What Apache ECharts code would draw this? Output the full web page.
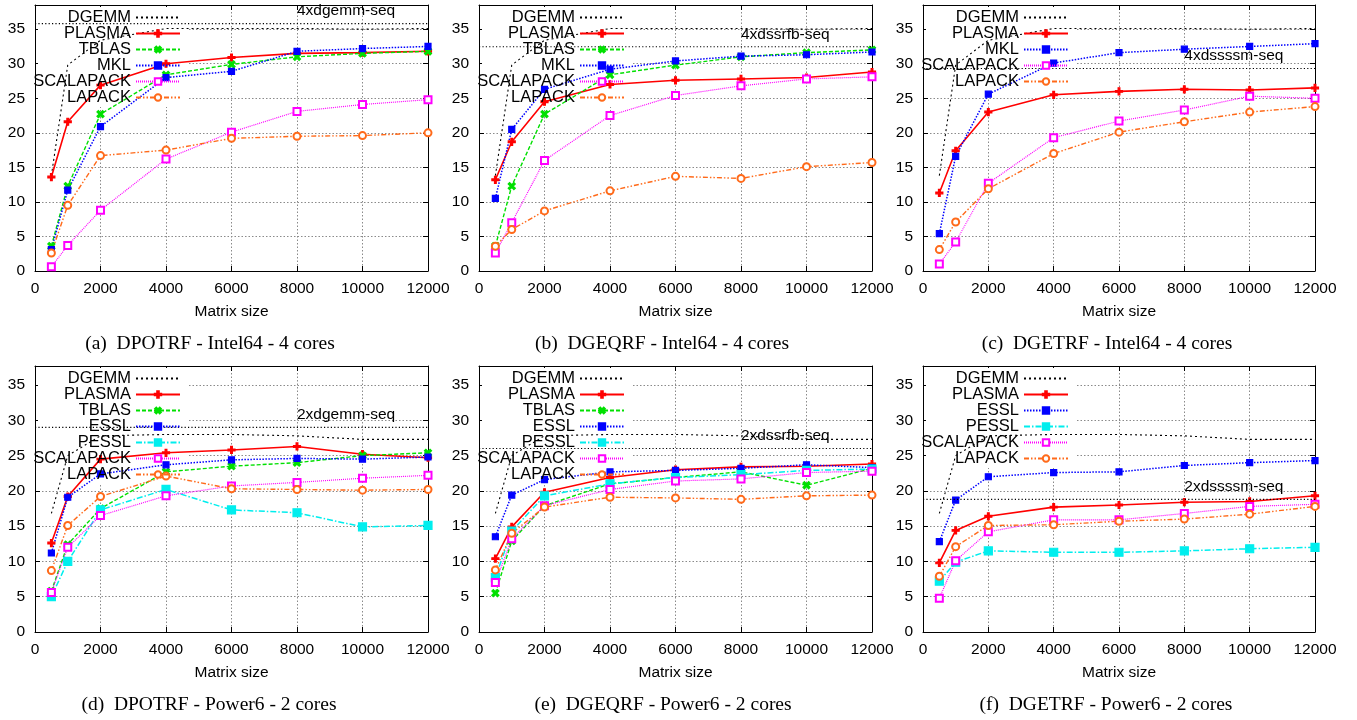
<!DOCTYPE html>
<html>
<head>
<meta charset="utf-8">
<script src="https://cdn.jsdelivr.net/npm/echarts@6/dist/echarts.min.js"></script>
<style>
html, body { margin: 0; padding: 0; background: #fff; }
#chart { width: 1357px; height: 720px; }
</style>
</head>
<body>
<div id="chart"></div>
<script>
// ---- measured data: Gflop/s versus matrix size ----
const matrixSizes = [500, 1000, 2000, 4000, 6000, 8000, 10000, 12000];

// DGEMM reference curves (same measurement for every panel of a machine)
const dgemmIntel64 = [13.8, 29.8, 33.4, 35.1, 35.1, 35.1, 35.0, 35.1];
const dgemmPower6  = [16.8, 25.0, 27.8, 28.0, 28.0, 27.8, 27.3, 27.3];

// (a) DPOTRF - Intel64 - 4 cores
const dpotrfIntelPlasma    = [13.6, 21.6, 26.9, 30.0, 30.9, 31.5, 31.6, 31.8];
const dpotrfIntelTblas     = [3.6, 12.3, 22.7, 28.4, 29.9, 31.0, 31.5, 31.8];
const dpotrfIntelMkl       = [3.1, 11.7, 20.9, 28.0, 28.9, 31.8, 32.2, 32.5];
const dpotrfIntelScalapack = [0.6, 3.7, 8.8, 16.2, 20.1, 23.1, 24.1, 24.8];
const dpotrfIntelLapack    = [2.6, 9.5, 16.7, 17.5, 19.2, 19.5, 19.6, 20.0];

// (b) DGEQRF - Intel64 - 4 cores
const dgeqrfIntelPlasma    = [13.2, 18.7, 24.5, 27.0, 27.6, 27.8, 28.0, 28.8];
const dgeqrfIntelTblas     = [3.6, 12.3, 22.7, 28.4, 29.8, 31.0, 31.6, 32.0];
const dgeqrfIntelMkl       = [10.5, 20.5, 26.3, 29.2, 30.4, 31.1, 31.3, 31.7];
const dgeqrfIntelScalapack = [2.6, 7.0, 16.0, 22.5, 25.4, 26.8, 27.8, 28.1];
const dgeqrfIntelLapack    = [3.6, 6.0, 8.7, 11.6, 13.7, 13.4, 15.1, 15.7];

// (c) DGETRF - Intel64 - 4 cores
const dgetrfIntelPlasma    = [11.3, 17.4, 23.0, 25.5, 26.0, 26.3, 26.2, 26.5];
const dgetrfIntelMkl       = [5.4, 16.6, 25.6, 30.1, 31.6, 32.1, 32.5, 32.9];
const dgetrfIntelScalapack = [1.0, 4.2, 12.7, 19.3, 21.7, 23.3, 25.3, 25.0];
const dgetrfIntelLapack    = [3.1, 7.1, 11.9, 17.0, 20.1, 21.6, 23.0, 23.8];

// (d) DPOTRF - Power6 - 2 cores
const dpotrfPowerPlasma    = [12.6, 19.2, 24.5, 25.4, 25.8, 26.3, 25.2, 24.7];
const dpotrfPowerTblas     = [5.8, 12.4, 17.5, 22.7, 23.5, 24.0, 25.0, 25.4];
const dpotrfPowerEssl      = [11.2, 19.1, 22.4, 23.7, 24.4, 24.6, 24.5, 24.8];
const dpotrfPowerPessl     = [5.0, 10.0, 17.3, 20.2, 17.3, 16.9, 14.9, 15.1];
const dpotrfPowerScalapack = [5.6, 12.0, 16.5, 19.3, 20.7, 21.2, 21.8, 22.2];
const dpotrfPowerLapack    = [8.7, 15.1, 19.2, 22.1, 20.3, 20.2, 20.1, 20.2];

// (e) DGEQRF - Power6 - 2 cores
const dgeqrfPowerPlasma    = [10.4, 14.9, 19.8, 21.9, 23.0, 23.4, 23.5, 23.8];
const dgeqrfPowerTblas     = [5.5, 12.9, 17.9, 21.0, 21.9, 22.7, 20.8, 23.2];
const dgeqrfPowerEssl      = [13.5, 19.4, 21.6, 22.7, 22.9, 23.2, 23.7, 23.3];
const dgeqrfPowerPessl     = [7.7, 14.3, 19.3, 21.0, 21.9, 22.3, 22.9, 23.1];
const dgeqrfPowerScalapack = [7.0, 13.2, 17.9, 20.2, 21.4, 21.7, 22.6, 22.8];
const dgeqrfPowerLapack    = [8.8, 14.0, 17.7, 19.1, 19.0, 18.8, 19.3, 19.4];

// (f) DGETRF - Power6 - 2 cores
const dgetrfPowerPlasma    = [9.8, 14.4, 16.4, 17.7, 18.0, 18.4, 18.5, 19.3];
const dgetrfPowerEssl      = [12.8, 18.7, 22.0, 22.6, 22.7, 23.6, 24.0, 24.3];
const dgetrfPowerPessl     = [7.2, 9.9, 11.5, 11.3, 11.3, 11.5, 11.8, 12.0];
const dgetrfPowerScalapack = [4.8, 10.1, 14.2, 15.9, 15.9, 16.8, 17.8, 18.1];
const dgetrfPowerLapack    = [7.9, 12.1, 15.1, 15.2, 15.7, 16.0, 16.7, 17.8];

// sequential-kernel reference levels (N x kernel peak)
const seqNames  = ['4xdgemm-seq', '4xdssrfb-seq', '4xdssssm-seq', '2xdgemm-seq', '2xdssrfb-seq', '2xdssssm-seq'];
const seqLevels = [35.8, 32.45, 29.3, 29.0, 26.0, 18.8];

const captions = [
  '(a)  DPOTRF - Intel64 - 4 cores',
  '(b)  DGEQRF - Intel64 - 4 cores',
  '(c)  DGETRF - Intel64 - 4 cores',
  '(d)  DPOTRF - Power6 - 2 cores',
  '(e)  DGEQRF - Power6 - 2 cores',
  '(f)  DGETRF - Power6 - 2 cores'
];

const panelSeries = [
  [['DGEMM', dgemmIntel64], ['PLASMA', dpotrfIntelPlasma], ['TBLAS', dpotrfIntelTblas], ['MKL', dpotrfIntelMkl], ['SCALAPACK', dpotrfIntelScalapack], ['LAPACK', dpotrfIntelLapack]],
  [['DGEMM', dgemmIntel64], ['PLASMA', dgeqrfIntelPlasma], ['TBLAS', dgeqrfIntelTblas], ['MKL', dgeqrfIntelMkl], ['SCALAPACK', dgeqrfIntelScalapack], ['LAPACK', dgeqrfIntelLapack]],
  [['DGEMM', dgemmIntel64], ['PLASMA', dgetrfIntelPlasma], ['MKL', dgetrfIntelMkl], ['SCALAPACK', dgetrfIntelScalapack], ['LAPACK', dgetrfIntelLapack]],
  [['DGEMM', dgemmPower6], ['PLASMA', dpotrfPowerPlasma], ['TBLAS', dpotrfPowerTblas], ['ESSL', dpotrfPowerEssl], ['PESSL', dpotrfPowerPessl], ['SCALAPACK', dpotrfPowerScalapack], ['LAPACK', dpotrfPowerLapack]],
  [['DGEMM', dgemmPower6], ['PLASMA', dgeqrfPowerPlasma], ['TBLAS', dgeqrfPowerTblas], ['ESSL', dgeqrfPowerEssl], ['PESSL', dgeqrfPowerPessl], ['SCALAPACK', dgeqrfPowerScalapack], ['LAPACK', dgeqrfPowerLapack]],
  [['DGEMM', dgemmPower6], ['PLASMA', dgetrfPowerPlasma], ['ESSL', dgetrfPowerEssl], ['PESSL', dgetrfPowerPessl], ['SCALAPACK', dgetrfPowerScalapack], ['LAPACK', dgetrfPowerLapack]]
];

// ---- styling ----
const SANS = 'Liberation Sans, Arial, Helvetica, sans-serif';
const SERIF = 'Liberation Serif, Times New Roman, serif';
const FS = 15.5;
const KEY_FS = 16.5;
const PLUS = 'path://M3,0h2v3h3v2h-3v3h-2v-3h-3v-2h3z';

const lineLook = {
  DGEMM:     { color: '#000000', type: [2, 3], width: 1.1, symbol: 'none', size: 0 },
  PLASMA:    { color: '#ff0000', type: 'solid', width: 1.6, symbol: PLUS, size: 7 },
  TBLAS:     { color: '#00e000', type: [4, 2], width: 1.4, symbol: PLUS, size: 8, rotate: 45 },
  MKL:       { color: '#0000ff', type: [1.5, 1.5], width: 1.5, symbol: 'rect', size: 6 },
  ESSL:      { color: '#0000ff', type: [1.5, 1.5], width: 1.5, symbol: 'rect', size: 6 },
  PESSL:     { color: '#00eeee', type: [6, 2, 1.5, 2], width: 1.5, symbol: 'rect', size: 8 },
  SCALAPACK: { color: '#ff00ff', type: [1, 1], width: 1.2, symbol: 'emptyRect', size: 7 },
  LAPACK:    { color: '#ff6a1a', type: [5, 2, 1.5, 2, 1.5, 2], width: 1.4, symbol: 'emptyCircle', size: 7 }
};

// panel frames in pixels
const cols = [{ left: 35, width: 393 }, { left: 479, width: 393 }, { left: 923, width: 392 }];
const rows = [{ top: 5, height: 266, ymax: 38.5 }, { top: 366, height: 266, ymax: 37.7 }];
const captionCenters = [210, 662, 1107, 209, 663, 1106];
const captionTops = [344, 705];
const TAG_X = 8000, TAG_LIFT = 1.8;

const grids = [], xAxes = [], yAxes = [], legends = [], series = [], graphics = [];
const gridLine = { show: true, lineStyle: { color: '#8a8a8a', type: [1.5, 2], width: 1 } };

for (let p = 0; p < 6; p++) {
  const c = cols[p % 3], r = rows[Math.floor(p / 3)];
  grids.push({ left: c.left, top: r.top, width: c.width, height: r.height, outerBoundsMode: 'none', containLabel: false });

  const xBase = {
    gridIndex: p, type: 'value', min: 0, max: 12000, interval: 2000,
    axisLine: { show: true, onZero: false, lineStyle: { color: '#000', width: 1 } },
    axisTick: { show: true, inside: true, length: 5, lineStyle: { color: '#000' } }
  };
  xAxes.push(Object.assign({}, xBase, {
    position: 'bottom',
    axisLabel: { fontFamily: SANS, fontSize: FS, color: '#000', margin: 10, formatter: v => String(v) },
    splitLine: gridLine,
    name: 'Matrix size', nameLocation: 'middle', nameGap: 33,
    nameTextStyle: { fontFamily: SANS, fontSize: FS, color: '#000' }
  }));
  const yBase = {
    gridIndex: p, type: 'value', min: 0, max: r.ymax, interval: 5,
    axisLine: { show: true, onZero: false, lineStyle: { color: '#000', width: 1 } },
    axisTick: { show: true, inside: true, length: 5, lineStyle: { color: '#000' } }
  };
  yAxes.push(Object.assign({}, yBase, {
    position: 'left',
    axisLabel: { fontFamily: SANS, fontSize: FS, color: '#000', margin: 10,
      formatter: v => (v % 5 === 0 ? String(v) : '') },
    splitLine: gridLine
  }));

  // white key area that hides the grid underneath
  const nKey = panelSeries[p].length;
  graphics.push({ type: 'rect', z: 1, silent: true,
    shape: { x: c.left + 3, y: r.top + 2, width: 150, height: nKey * 16 + 4 },
    style: { fill: '#ffffff' } });

  legends.push({
    data: panelSeries[p].map(s => s[0] === 'DGEMM'
      ? { name: 'DGEMM', itemStyle: { opacity: 0 } }
      : s[0]),
    orient: 'vertical', align: 'right', selectedMode: false,
    right: 1357 - (c.left + 146), top: r.top + 4,
    padding: 0, itemWidth: 44, itemHeight: 8, itemGap: -1,
    textStyle: { fontFamily: SANS, fontSize: KEY_FS, color: '#000', lineHeight: 16 }
  });

  graphics.push({ type: 'text', silent: true,
    x: captionCenters[p], y: captionTops[Math.floor(p / 3)],
    style: { text: captions[p], font: '19.5px ' + SERIF, fill: '#000', textAlign: 'center', textVerticalAlign: 'middle' } });

  panelSeries[p].forEach(([name, vals]) => {
    const s = lineLook[name];
    series.push({
      type: 'line', name, xAxisIndex: p, yAxisIndex: p,
      data: matrixSizes.map((m, k) => [m, vals[k]]),
      symbol: s.symbol, symbolSize: s.size, symbolRotate: s.rotate || 0,
      showSymbol: s.symbol !== 'none',
      lineStyle: { color: s.color, width: s.width, type: s.type },
      itemStyle: { color: s.color, borderColor: s.color, borderWidth: 1.2 },
      emphasis: { disabled: true }, silent: true, z: 2
    });
  });

  // sequential reference level
  series.push({
    type: 'line', name: seqNames[p], xAxisIndex: p, yAxisIndex: p,
    data: [[0, seqLevels[p]], [12000, seqLevels[p]]],
    symbol: 'none', silent: true, z: 3,
    lineStyle: { color: '#000', width: 1.1, type: [1.2, 2.2] }
  });
}

// mirrored frame sides with inward ticks
for (let p = 0; p < 6; p++) {
  const r = rows[Math.floor(p / 3)];
  xAxes.push({ gridIndex: p, type: 'value', position: 'top', min: 0, max: 12000, interval: 2000,
    axisLine: { show: true, onZero: false, lineStyle: { color: '#000', width: 1 } },
    axisTick: { show: true, inside: true, length: 5, lineStyle: { color: '#000' } },
    axisLabel: { show: false }, splitLine: { show: false } });
  yAxes.push({ gridIndex: p, type: 'value', position: 'right', min: 0, max: r.ymax, interval: 5,
    axisLine: { show: true, onZero: false, lineStyle: { color: '#000', width: 1 } },
    axisTick: { show: true, inside: true, length: 5, lineStyle: { color: '#000' } },
    axisLabel: { show: false }, splitLine: { show: false } });
}

const chart = echarts.init(document.getElementById('chart'), null, { renderer: 'canvas' });
chart.setOption({
  animation: false,
  backgroundColor: '#ffffff',
  grid: grids, xAxis: xAxes, yAxis: yAxes,
  legend: legends, series: series,
  graphic: { elements: graphics }
});

// tags naming each reference level, placed through the panel's own scales
const tags = seqNames.map((name, p) => {
  const pt = chart.convertToPixel({ gridIndex: p }, [TAG_X, seqLevels[p] + TAG_LIFT]);
  return { type: 'text', silent: true, z: 5, x: pt[0], y: pt[1],
    style: { text: name, font: FS + 'px ' + SANS, fill: '#000', textAlign: 'left', textVerticalAlign: 'middle' } };
});
chart.setOption({ graphic: { elements: graphics.concat(tags) } });
</script>
</body>
</html>
